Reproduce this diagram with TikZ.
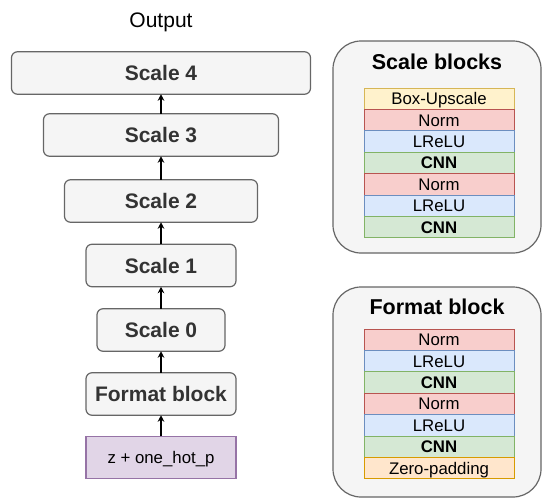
\documentclass[tikz,border=0pt]{standalone}
\usepackage{fontspec}
\setmainfont{Liberation Sans}
\usetikzlibrary{positioning,arrows.meta}

\definecolor{boxfill}{HTML}{F5F5F5}
\definecolor{boxline}{HTML}{666666}
\definecolor{labeltext}{HTML}{333333}
\definecolor{infill}{HTML}{E1D5E7}
\definecolor{inline}{HTML}{9673A6}
\definecolor{upfill}{HTML}{FFF2CC}
\definecolor{upline}{HTML}{D6B656}
\definecolor{normfill}{HTML}{F8CECC}
\definecolor{normline}{HTML}{B85450}
\definecolor{actfill}{HTML}{DAE8FC}
\definecolor{actline}{HTML}{6C8EBF}
\definecolor{cnnfill}{HTML}{D5E8D4}
\definecolor{cnnline}{HTML}{82B366}
\definecolor{padfill}{HTML}{FFE6CC}
\definecolor{padline}{HTML}{D79B00}

\begin{document}
\begin{tikzpicture}[x=1pt, y=1pt, > = {Stealth[length=6.5pt, width=6.5pt]}]
    \tikzset{
      stage/.style={draw=boxline, fill=boxfill, rounded corners=6pt, line width=1.2pt,
        minimum height=42.5pt, inner sep=0pt, outer sep=0pt, text=labeltext,
        font=\fontsize{21}{25}\selectfont\bfseries},
      inputbox/.style={draw=inline, fill=infill, line width=1.2pt, minimum width=150pt,
        minimum height=42.5pt, inner sep=0pt, outer sep=0pt, text height=12pt, text depth=0pt,
        font=\fontsize{16.8}{20}\selectfont},
      panel/.style={draw=boxline, fill=boxfill, rounded corners=28pt, line width=1.2pt,
        minimum width=208pt, inner sep=0pt},
      paneltitle/.style={inner sep=0pt, font=\fontsize{21.5}{25}\selectfont\bfseries},
      layer/.style={draw, line width=1pt, minimum width=150pt, minimum height=21.4pt,
        inner sep=0pt, outer sep=0pt, text height=12pt, text depth=0pt,
        font=\fontsize{16.8}{20}\selectfont},
      upscale/.style={layer, fill=upfill, draw=upline},
      norm/.style={layer, fill=normfill, draw=normline},
      lrelu/.style={layer, fill=actfill, draw=actline},
      cnn/.style={layer, fill=cnnfill, draw=cnnline, font=\fontsize{16.8}{20}\selectfont\bfseries},
      zeropad/.style={layer, fill=padfill, draw=padline},
    }
    \useasboundingbox (0,0) rectangle (542,-499);

    % generator stack
    \node [inputbox] (input) at (161,-457.5) {z + one\_hot\_p};
    \node [stage, minimum width=150pt, above=21pt of input] (format) {Format block};
    \node [stage, minimum width=128pt, above=21.5pt of format] (s0) {Scale 0};
    \node [stage, minimum width=150pt, above=22pt of s0] (s1) {Scale 1};
    \node [stage, minimum width=193pt, above=22pt of s1] (s2) {Scale 2};
    \node [stage, minimum width=235pt, above=23.5pt of s2] (s3) {Scale 3};
    \node [stage, minimum width=299pt, above=19.5pt of s3] (s4) {Scale 4};
    \node [inner sep=0pt, font=\fontsize{21}{25}\selectfont, above=20pt of s4] (output) {Output};

    \path[->, line width=1.3pt] (input) edge (format) (format) edge (s0) (s0) edge (s1)
      (s1) edge (s2) (s2) edge (s3) (s3) edge (s4);

    % scale blocks
    \node [panel, minimum height=212pt] (sbpanel) at (437,-147) {};
    \node [paneltitle, below=13pt of sbpanel.north] (sbtitle) {Scale blocks};
    \node [upscale] (sb1) at (439,-98.7) {Box-Upscale};
    \node [norm, below=0pt of sb1] (sb2) {Norm};
    \node [lrelu, below=0pt of sb2] (sb3) {LReLU};
    \node [cnn, below=0pt of sb3] (sb4) {CNN};
    \node [norm, below=0pt of sb4] (sb5) {Norm};
    \node [lrelu, below=0pt of sb5] (sb6) {LReLU};
    \node [cnn, below=0pt of sb6] (sb7) {CNN};

    % format block
    \node [panel, minimum height=210pt] (fbpanel) at (437,-392) {};
    \node [paneltitle, below=12pt of fbpanel.north] (fbtitle) {Format block};
    \node [norm] (fb1) at (439,-339.7) {Norm};
    \node [lrelu, below=0pt of fb1] (fb2) {LReLU};
    \node [cnn, below=0pt of fb2] (fb3) {CNN};
    \node [norm, below=0pt of fb3] (fb4) {Norm};
    \node [lrelu, below=0pt of fb4] (fb5) {LReLU};
    \node [cnn, below=0pt of fb5] (fb6) {CNN};
    \node [zeropad, below=0pt of fb6] (fb7) {Zero-padding};

  \end{tikzpicture}
\end{document}
